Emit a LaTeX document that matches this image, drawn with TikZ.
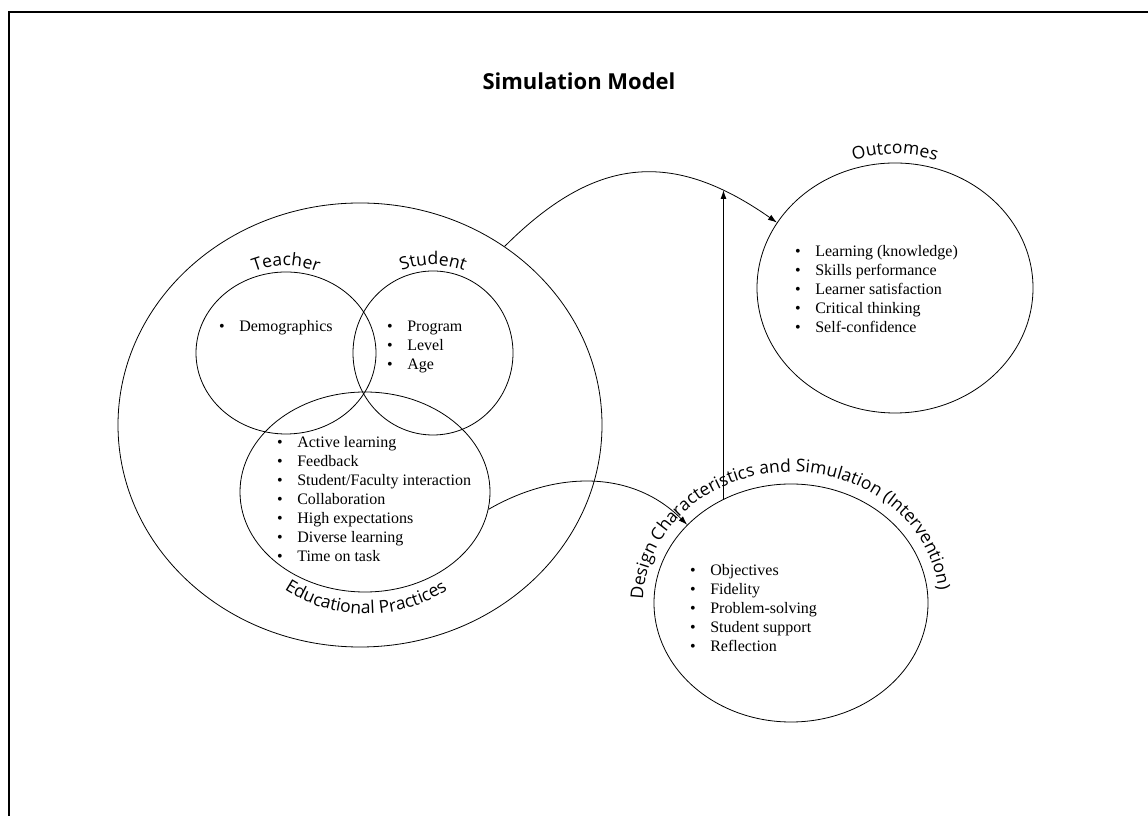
\documentclass[tikz,border=0pt]{standalone}
\usepackage{fontspec}
\setmainfont{Liberation Serif}
\setsansfont{Open Sans}
\usetikzlibrary{arrows.meta,shapes.geometric,decorations.text}
\newcommand{\lab}{\sffamily\fontsize{17.5}{20}\selectfont}
\newcommand{\blist}[1]{\begin{tabular}[t]{@{}l@{\hspace{14.5pt}}l@{}}#1\end{tabular}}
\tikzset{
  ring/.style={ellipse, draw, inner sep=0pt, line width=.8pt},
  items/.style={anchor=base west, inner sep=0pt, font=\fontsize{16}{19}\selectfont},
  arclab/.style={decorate, decoration={text along path, text align=center, text={|\lab|#1}}}
}

\begin{document}
\begin{tikzpicture}[x=1pt,y=1pt,>={Latex[length=9pt,width=6pt]}]
  \useasboundingbox (0,0) rectangle (1148,816);
  % frame
  \draw[line width=2.4pt] (9,0) -- (9,804) -- (1148,804);
  \node[font=\sffamily\bfseries\fontsize{22}{26}\selectfont] (title) at (579,735) {Simulation Model};

  % Educational practices
  \node[ring, minimum width=484pt, minimum height=444pt] (edu) at (360,391) {};
  \node[ring, minimum width=180pt, minimum height=162pt] (teach) at (286,463) {};
  \node[ring, minimum width=160pt, minimum height=164pt] (stud) at (433,463) {};
  \node[ring, minimum width=250pt, minimum height=200pt] (prac) at (365,324) {};
  \path[arclab=Teacher] ([shift={(140:87)}]teach.center) arc[start angle=140, end angle=40, radius=87pt];
  \path[arclab=Student] ([shift={(140:88)}]stud.center) arc[start angle=140, end angle=40, radius=88pt];
  \coordinate (epc) at (366,352);
  \path[arclab=Educational Practices] ([shift={(225:150)}]epc) arc[start angle=225, end angle=315, radius=150pt];

  \node[items] (tlist) at (219,484) {\blist{\textbullet & Demographics}};
  \node[items] (slist) at (387,484) {\blist{\textbullet & Program\\ \textbullet & Level\\ \textbullet & Age}};
  \node[items] (plist) at (277,368) {\blist{\textbullet & Active learning\\ \textbullet & Feedback\\
    \textbullet & Student/Faculty interaction\\ \textbullet & Collaboration\\ \textbullet & High expectations\\
    \textbullet & Diverse learning\\ \textbullet & Time on task}};

  % Outcomes
  \node[ring, minimum width=276pt, minimum height=250pt] (outc) at (895,528) {};
  \path[arclab=Outcomes] ([shift={(130:134)}]outc.center) arc[start angle=130, end angle=50, radius=134pt];
  \node[items] (olist) at (795,559) {\blist{\textbullet & Learning (knowledge)\\ \textbullet & Skills performance\\
    \textbullet & Learner satisfaction\\ \textbullet & Critical thinking\\ \textbullet & Self-confidence}};

  % Design characteristics
  \node[ring, minimum width=274pt, minimum height=238pt] (design) at (791,213) {};
  \path[arclab=Design Characteristics and Simulation (Intervention)] ([shift={(200:148 and 131)}]design.center)
    arc[start angle=200, end angle=-16, x radius=148pt, y radius=131pt];
  \node[items] (dlist) at (690,240) {\blist{\textbullet & Objectives\\ \textbullet & Fidelity\\
    \textbullet & Problem-solving\\ \textbullet & Student support\\ \textbullet & Reflection}};

  % arrows
  \draw[->, line width=.8pt] (edu.51) to[out=45, in=145, looseness=1.2] (outc.151);
  \draw[->, line width=.8pt] (prac.-8) to[out=30, in=135] (design.143);
  \coordinate (mod) at (723,626);
  \draw[->, line width=1pt] (design.123) -- (design.123 |- mod);
\end{tikzpicture}
\end{document}
